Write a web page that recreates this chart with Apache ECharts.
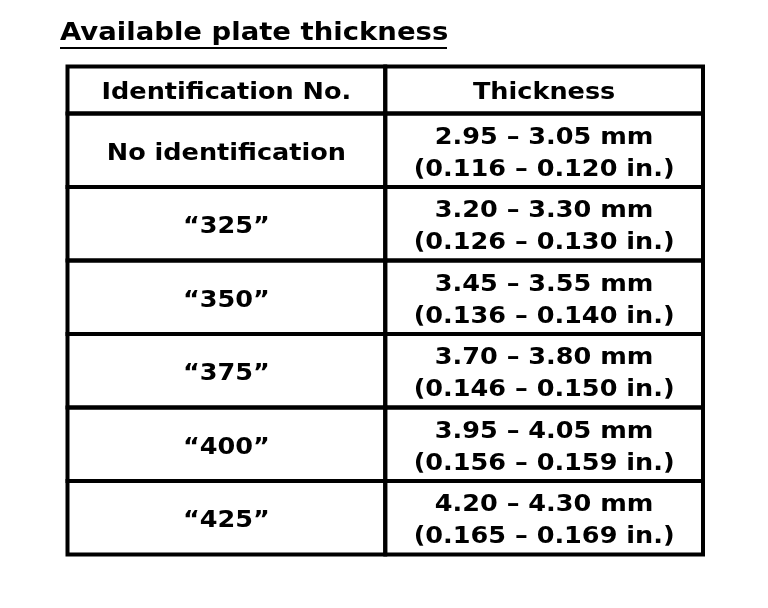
<!DOCTYPE html>
<html>
<head>
<meta charset="utf-8">
<script src="https://cdn.jsdelivr.net/npm/echarts@6/dist/echarts.min.js"></script>
<style>html,body{margin:0;padding:0;background:#fff;}#chart{width:768px;height:608px;}</style>
</head>
<body>
<div id="chart"></div>
<script>
const titleText = 'Available plate thickness';
const headers = ['Identification No.', 'Thickness'];
const idNumbers = ['No identification', '\u201C325\u201D', '\u201C350\u201D', '\u201C375\u201D', '\u201C400\u201D', '\u201C425\u201D'];
const thicknessMm = ['2.95 \u2013 3.05 mm', '3.20 \u2013 3.30 mm', '3.45 \u2013 3.55 mm', '3.70 \u2013 3.80 mm', '3.95 \u2013 4.05 mm', '4.20 \u2013 4.30 mm'];
const thicknessIn = ['(0.116 \u2013 0.120 in.)', '(0.126 \u2013 0.130 in.)', '(0.136 \u2013 0.140 in.)', '(0.146 \u2013 0.150 in.)', '(0.156 \u2013 0.159 in.)', '(0.165 \u2013 0.169 in.)'];
const columns = ['id', 'thickness'];

const headerCells = headers.map((h, c) => ({ value: [c, 0], label: h }));
const bodyCells = [];
idNumbers.forEach((id, r) => {
  bodyCells.push({ value: [0, r], label: id });
  bodyCells.push({ value: [1, r], label: thicknessMm[r] + '\n' + thicknessIn[r] });
});

const FAMILY = '"DejaVu Sans", Verdana, sans-serif';
const FONT = 'bold 23px ' + FAMILY;
const WIDEN = 1.11;

function makeRender(cells) {
  return function (params, api) {
    const c = api.coord([api.value(0), api.value(1)]);
    const s = api.size([1, 1]);
    return {
      type: 'group',
      children: [
        {
          type: 'rect',
          shape: { x: c[0] - s[0] / 2, y: c[1] - s[1] / 2, width: s[0], height: s[1] },
          style: { fill: null, stroke: '#000', lineWidth: 4 }
        },
        {
          type: 'text',
          x: c[0], y: c[1] + 3.5,
          scaleX: WIDEN,
          style: {
            text: cells[params.dataIndex].label,
            fill: '#000', font: FONT,
            align: 'center', verticalAlign: 'middle', lineHeight: 32
          }
        }
      ]
    };
  };
}

const chart = echarts.init(document.getElementById('chart'));
chart.setOption({
  animation: false,
  backgroundColor: '#fff',
  graphic: [
    {
      type: 'text', x: 60, y: 33, scaleX: 1.1,
      style: { text: titleText, font: 'bold 25px ' + FAMILY, fill: '#000', align: 'left', verticalAlign: 'middle' }
    },
    {
      type: 'line', shape: { x1: 60, y1: 48, x2: 447, y2: 48 },
      style: { stroke: '#000', lineWidth: 2 }
    }
  ],
  grid: [
    { left: 67.5, right: 65, top: 66.5, height: 47 },
    { left: 67.5, right: 65, top: 113.5, height: 441 }
  ],
  xAxis: [
    { gridIndex: 0, type: 'category', data: columns, show: false },
    { gridIndex: 1, type: 'category', data: columns, show: false }
  ],
  yAxis: [
    { gridIndex: 0, type: 'category', data: ['header'], show: false, inverse: true },
    { gridIndex: 1, type: 'category', data: idNumbers, show: false, inverse: true }
  ],
  series: [
    { type: 'custom', xAxisIndex: 0, yAxisIndex: 0, data: headerCells, renderItem: makeRender(headerCells), silent: true },
    { type: 'custom', xAxisIndex: 1, yAxisIndex: 1, data: bodyCells, renderItem: makeRender(bodyCells), silent: true }
  ]
});
</script>
</body>
</html>
